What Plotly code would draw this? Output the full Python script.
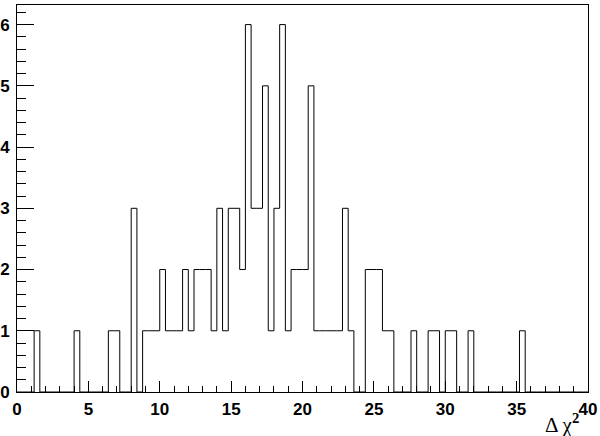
import plotly.graph_objects as go

# Histogram: 100 bins of width 0.4 from 0 to 40
x_min = 0.0
x_max = 40.0
n_bins = 100
counts = [
    0, 0, 0, 1, 0, 0, 0, 0, 0, 0,   # 0.0 - 4.0
    1, 0, 0, 0, 0, 0, 1, 1, 0, 0,   # 4.0 - 8.0
    3, 0, 1, 1, 1, 2, 1, 1, 1, 2,   # 8.0 - 12.0
    1, 2, 2, 2, 1, 3, 1, 3, 3, 2,   # 12.0 - 16.0
    6, 3, 3, 5, 1, 3, 6, 1, 2, 2,   # 16.0 - 20.0
    2, 5, 1, 1, 1, 1, 1, 3, 1, 0,   # 20.0 - 24.0
    0, 2, 2, 2, 1, 1, 0, 0, 0, 1,   # 24.0 - 28.0
    0, 0, 1, 1, 0, 1, 1, 0, 0, 1,   # 28.0 - 32.0
    0, 0, 0, 0, 0, 0, 0, 0, 1, 0,   # 32.0 - 36.0
    0, 0, 0, 0, 0, 0, 0, 0, 0, 0,   # 36.0 - 40.0
]
x_title = "Δ χ<sup><b>2</b></sup>"

bw = (x_max - x_min) / n_bins
edges = [x_min + i * bw for i in range(n_bins + 1)]
xs = edges
ys = counts + [counts[-1]]

fig = go.Figure()
fig.add_trace(go.Scatter(
    x=xs, y=ys, mode="lines", line_shape="hv",
    line=dict(color="black", width=1), showlegend=False, hoverinfo="skip",
))

tickfont = dict(family="Liberation Sans, Arial, sans-serif", size=17, color="black", weight="bold")

fig.update_layout(
    width=600, height=436,
    margin=dict(l=17, r=12, t=5, b=44, autoexpand=False),
    paper_bgcolor="white", plot_bgcolor="white",
    xaxis=dict(
        range=[0, 40], showgrid=False, zeroline=False, automargin=False,
        showline=True, linecolor="black", linewidth=1, mirror=True,
        ticks="inside", ticklen=11, tickwidth=1, tickcolor="black",
        tickmode="linear", tick0=0, dtick=5,
        minor=dict(ticks="inside", ticklen=6, dtick=1, tick0=0, tickcolor="black", showgrid=False),
        tickfont=tickfont, ticklabelstandoff=2,
    ),
    yaxis=dict(
        range=[0, 6.32], showgrid=False, zeroline=False, automargin=False,
        showline=True, linecolor="black", linewidth=1, mirror=True,
        ticks="inside", ticklen=17, tickwidth=1, tickcolor="black",
        tickmode="linear", tick0=0, dtick=1,
        minor=dict(ticks="inside", ticklen=9, dtick=0.2, tick0=0, tickcolor="black", showgrid=False),
        tickfont=tickfont, ticklabelstandoff=3,
    ),
)

fig.add_annotation(
    text=x_title, xref="paper", yref="paper", x=(581 - 17) / 571, y=0,
    xanchor="right", yanchor="top", yshift=-16, showarrow=False,
    font=dict(family="Liberation Serif, Times New Roman, serif", size=21, color="black"),
)

fig.write_html(
    "out.html",
    config={"displayModeBar": False},
    post_script="document.body.style.margin='0';document.body.style.overflow='hidden';",
)
